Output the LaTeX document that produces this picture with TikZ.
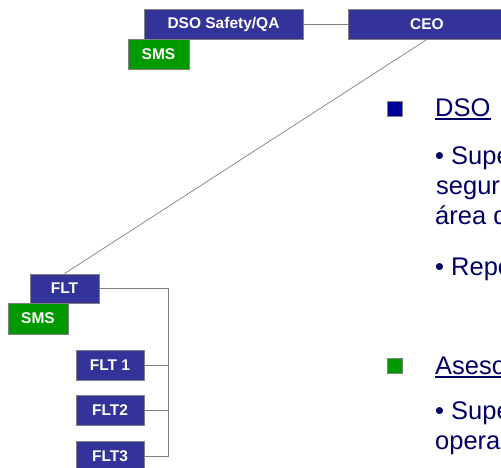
\documentclass[tikz,border=0pt]{standalone}
\usepackage{fontspec}
\setmainfont{Liberation Sans}
\definecolor{unitblue}{HTML}{333399}
\definecolor{smsgreen}{HTML}{009900}
\definecolor{frame}{HTML}{808080}
\definecolor{navytext}{HTML}{000066}
\definecolor{navysq}{HTML}{000099}
\tikzset{unit/.style = {fill=unitblue, draw=frame, line width=0.8, text=white,
                        font=\bfseries\fontsize{15.5}{18}\selectfont,
                        inner sep=0, minimum height=30}}
\tikzset{smsbox/.style = {unit, fill=smsgreen}}
\tikzset{link/.style = {draw=frame, line width=0.9}}
\tikzset{txt/.style = {text=navytext, font=\fontsize{25.5}{30}\selectfont,
                       inner sep=0, anchor=base west}}
\tikzset{marker/.style = {draw=frame, line width=0.6, minimum size=15, inner sep=0}}
\begin{document}
\begin{tikzpicture}[x=1pt, y=-1pt]
    \useasboundingbox (0, 0) rectangle (501, 467);
    \clip (0, 0) rectangle (501, 467);

    % top row
    \node [unit, minimum width=159] (dso) at (223.5, 24) {DSO Safety/QA};
    \node [unit, minimum width=158] (ceo) at (427, 24) {CEO};
    \node [smsbox, minimum width=61] (sms1) at (158.5, 54) {SMS};
    \draw [link] (dso) -- (ceo);

    % flight branch
    \node [unit, minimum width=69, minimum height=29] (flt) at (64.5, 288.5) {FLT};
    \node [smsbox, minimum width=60, minimum height=31] (sms2) at (38, 318.5) {SMS};
    \node [unit, minimum width=68] (flt1) at (110, 365) {FLT 1};
    \node [unit, minimum width=68] (flt2) at (110, 410) {FLT2};
    \node [unit, minimum width=68] (flt3) at (110, 456) {FLT3};

    \draw [link, line width=0.7] (ceo.south) -- (flt.north);
    \draw [link] (flt.east) -- ++(69, 0) |- (flt3.east);
    \draw [link] (flt1.east) -- ++(24, 0);
    \draw [link] (flt2.east) -- ++(24, 0);

    % notes on the right
    \node [marker, fill=navysq] (m1) at (394.5, 108.5) {};
    \node [txt] (h1) at (435, 116) {DSO};
    \draw [navytext, line width=1.8] ([yshift=-3pt]h1.base west) -- ([yshift=-3pt]h1.base east);
    \node [txt] (l1) at (435, 164) {\textbullet{} Supervisa la};
    \node [txt] (l2) at (436, 194) {seguridad};
    \node [txt] (l3) at (435, 224) {área de};
    \node [txt] (l4) at (435, 275) {\textbullet{} Reporta};

    \node [marker, fill=smsgreen] (m2) at (394.5, 366) {};
    \node [txt] (h2) at (435, 374) {Asesor};
    \draw [navytext, line width=1.8] ([yshift=-3pt]h2.base west) -- ([yshift=-3pt]h2.base east);
    \node [txt] (l5) at (435, 419) {\textbullet{} Supervisa};
    \node [txt] (l6) at (435, 449) {operaciones};
\end{tikzpicture}
\end{document}
